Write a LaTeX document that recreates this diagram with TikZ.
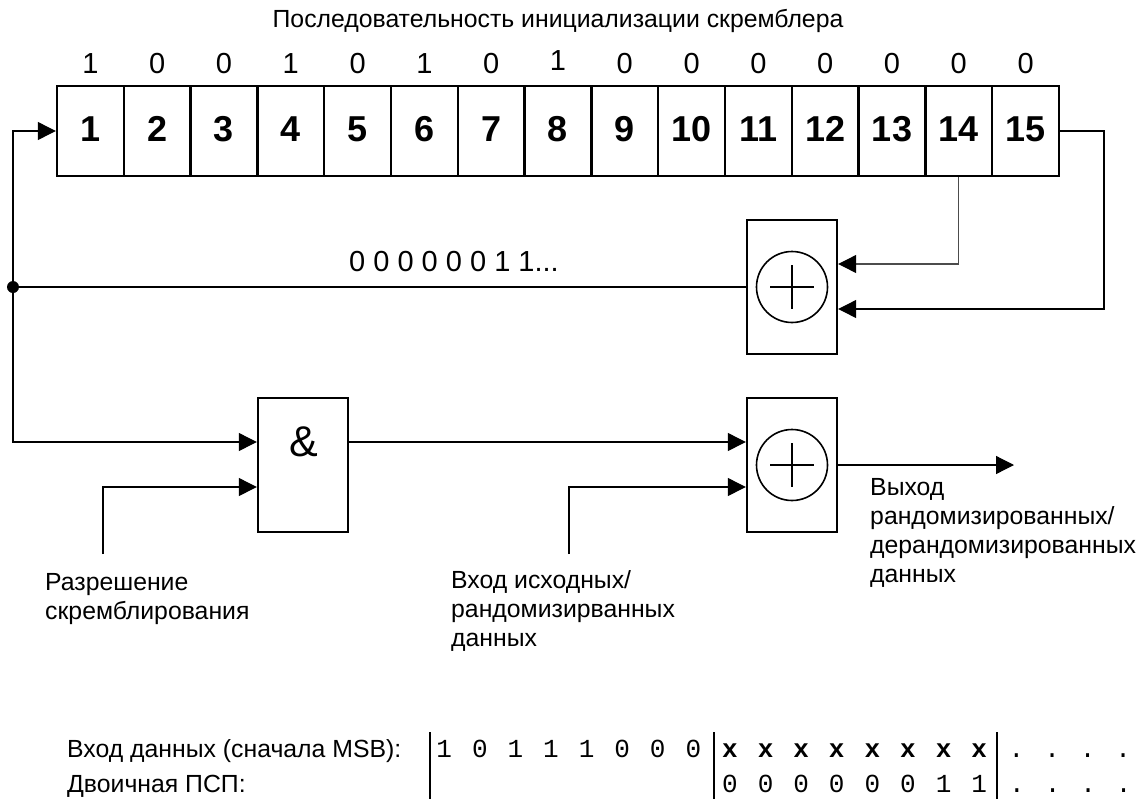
\documentclass[tikz,border=0pt]{standalone}
\usepackage{fontspec}
\setmainfont{Liberation Sans}
\newfontfamily\monof{Liberation Mono}
\usetikzlibrary{arrows.meta,calc}
\tikzset{
  px/.style={x=1pt,y=-1pt},
  cellbox/.style={draw,line width=2.4pt,minimum width=66.8pt,minimum height=90pt,inner sep=0pt,text height=26pt,text depth=0pt,font=\fontsize{36}{38}\selectfont\bfseries},
  gatebox/.style={draw,line width=2.4pt,minimum width=90pt,minimum height=134pt,inner sep=0pt},
  xorring/.style={draw,circle,line width=1.6pt,minimum size=71pt,inner sep=0pt},
  wire/.style={line width=1.2pt},
  awire/.style={wire,-{Triangle[length=18pt,width=18pt,black]}},
  lab/.style={inner sep=0pt,font=\fontsize{24.8}{29}\selectfont,align=left},
  bit/.style={inner sep=0pt,anchor=base,font=\fontsize{29}{30}\selectfont},
  seq/.style={inner sep=0pt,anchor=base west,font=\monof\fontsize{26}{28}\selectfont},
  seqb/.style={seq,font=\monof\bfseries\fontsize{26}{28}\selectfont},
  sep/.style={line width=2pt},
  dotn/.style={circle,fill=black,minimum size=12pt,inner sep=0pt}
}
\newcommand{\pitchrow}[1]{\frenchspacing\spaceskip=20pt\relax #1}
\begin{document}
\begin{tikzpicture}[px]
\useasboundingbox (0,0) rectangle (1145,801);
\node[lab,anchor=base] (title) at (558,27) {Последовательность инициализации скремблера};
\foreach \i/\b/\by [evaluate=\i as \cx using {57+66.8*(\i-0.5)}] in {1/1/73,2/0/73,3/0/73,4/1/73,5/0/73,6/1/73,7/0/73,8/1/70,9/0/73,10/0/73,11/0/73,12/0/73,13/0/73,14/0/73,15/0/73}{
  \node[cellbox] (c\i) at (\cx,131) {\raisebox{3pt}[0pt][0pt]{\i}};
  \node[bit] (b\i) at (\cx,\by) {\b};
}
\node[gatebox] (xa) at (792,287) {};
\node[xorring] (ra) at (xa.center) {};
\draw[line width=1.6pt] ($(ra.center)+(-22,0)$) -- ($(ra.center)+(22,0)$) ($(ra.center)+(0,-22)$) -- ($(ra.center)+(0,22)$);
\node[gatebox] (xb) at (792,465) {};
\node[xorring] (rb) at (xb.center) {};
\draw[line width=1.6pt] ($(rb.center)+(-22,0)$) -- ($(rb.center)+(22,0)$) ($(rb.center)+(0,-22)$) -- ($(rb.center)+(0,22)$);
\node[gatebox] (andg) at (303,465) {};
\node[inner sep=0pt,anchor=base,font=\fontsize{43}{45}\selectfont] (amp) at (304,456) {\&};
\node[dotn] (j) at (13,287) {};
\coordinate (upl) at (13,131);
\coordinate (lowl) at (13,442);
\coordinate (en) at (103,554);
\coordinate (din) at (569,554);
\coordinate (out) at (1014,465);
\coordinate (r15) at (1104,131);
\draw[awire] (j.center) -- (upl) -- (c1.west);
\draw[wire] (xa.west) -- (j.center);
\draw[awire] (j.center) -- (lowl) -- (andg.west |- lowl);
\draw[awire] (andg.east |- lowl) -- (xb.west |- lowl);
\draw[awire] (en) -- (en |- 0,487) -- (andg.west |- 0,487);
\draw[awire] (din) -- (din |- 0,487) -- (xb.west |- 0,487);
\draw[awire] (xb.east) -- (out);
\draw[awire,draw=black!70] (c14.south) -- (c14.south |- 0,264) -- (xa.east |- 0,264);
\draw[awire] (c15.east) -- (r15) -- (r15 |- 0,309) -- (xa.east |- 0,309);
\node[lab,anchor=base,font=\fontsize{29}{30}\selectfont] (stream) at (454,271) {0 0 0 0 0 0 1 1...};
\node[lab,anchor=north west] (enl) at (45,573) {Разрешение\\скремблирования};
\node[lab,anchor=north west] (inl) at (451,570) {Вход исходных/\\рандомизирванных\\данных};
\node[lab,anchor=north west] (outl) at (870,478) {Выход\\рандомизированных/\\дерандомизированных\\данных};
\node[lab,anchor=base west] (r1) at (67,757) {Вход данных (сначала MSB):};
\node[lab,anchor=base west] (r2) at (67,792) {Двоичная ПСП:};
\node[seq] (s1) at (436.2,757) {\pitchrow{1 0 1 1 1 0 0 0}};
\node[seqb] (s2) at (722,757) {\pitchrow{x x x x x x x x}};
\node[seq] (s3) at (722,792) {\pitchrow{0 0 0 0 0 0 1 1}};
\node[seq] (s4) at (1008.5,757) {\pitchrow{. . . .}};
\node[seq] (s5) at (1009,792) {\pitchrow{. . . .}};
\draw[sep] (430,732) -- (430,799);
\draw[sep] (714,732) -- (714,799);
\draw[sep] (997,732) -- (997,799);
\end{tikzpicture}
\end{document}
